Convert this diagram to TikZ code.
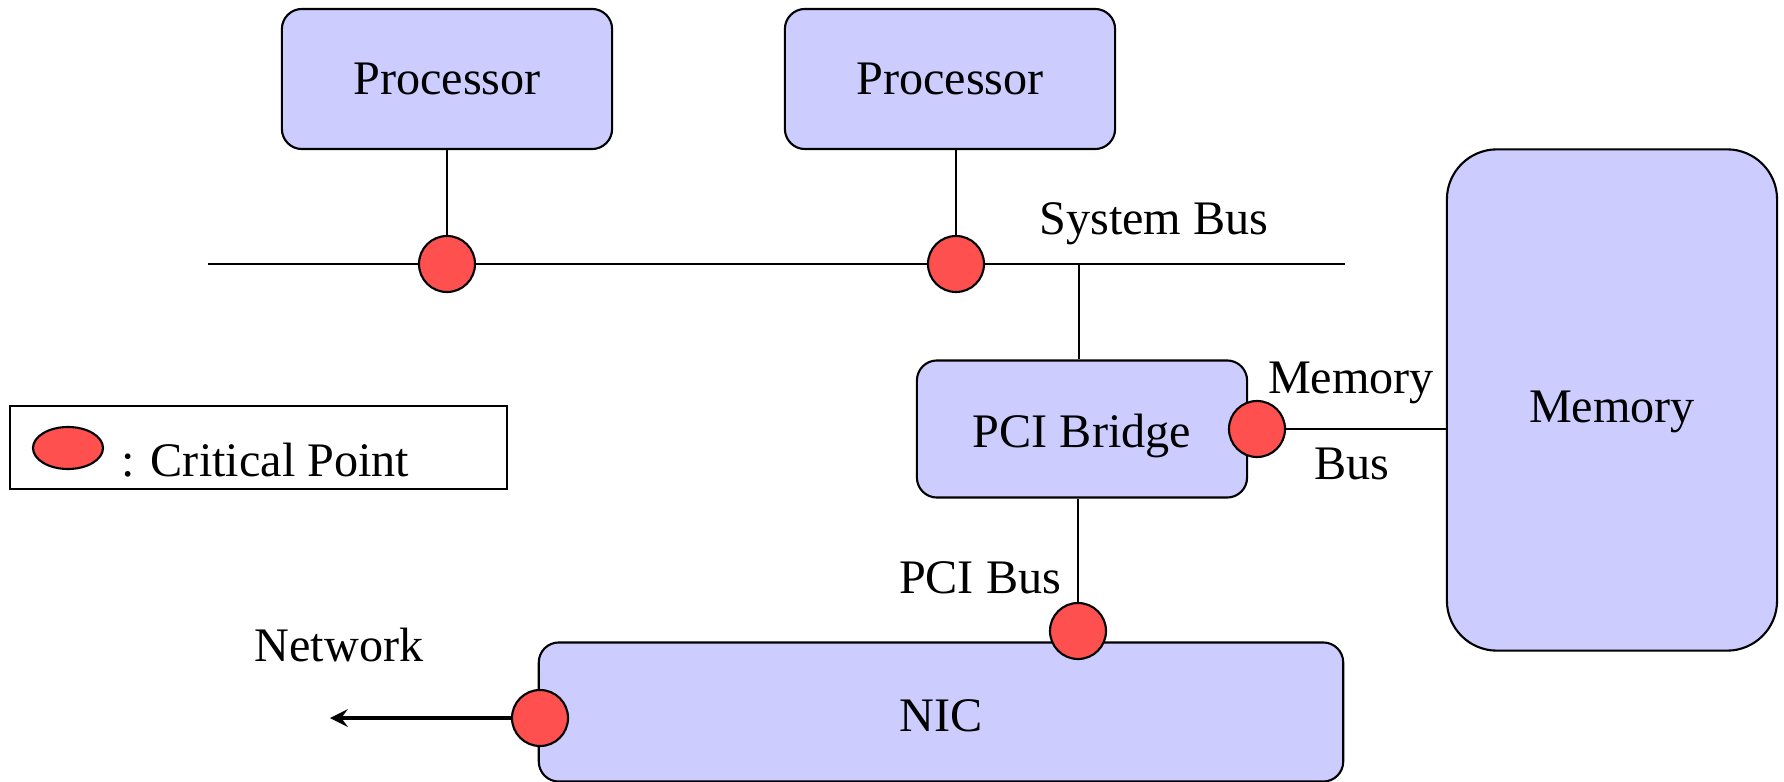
\documentclass[tikz,border=0pt]{standalone}
\usepackage{fontspec}
\setmainfont{Liberation Serif}
\usetikzlibrary{shapes.geometric, arrows, positioning}
\definecolor{boxblue}{RGB}{204,204,255}
\definecolor{pointred}{RGB}{255,80,80}
\tikzstyle{unit} = [
  rectangle,
  rounded corners=0.2cm,
  minimum width=3.3cm,
  minimum height=1.4cm,
  text centered,
  draw=black,
  line width=0.6pt,
  fill=boxblue,
  font=\fontsize{13.7}{16}\selectfont
]
\tikzstyle{point} = [
  circle,
  minimum size=0.56cm,
  inner sep=0pt,
  draw=black,
  line width=0.6pt,
  fill=pointred
]
\tikzstyle{buslabel} = [font=\fontsize{13.7}{16}\selectfont]
\tikzstyle{bus} = [line width=0.5pt]
\tikzstyle{arrow} = [line width=1.2pt, ->, >=stealth]

\begin{document}
\begin{tikzpicture}[x=0.01cm, y=-0.01cm]
    \useasboundingbox (0,0) rectangle (1784,782);

    \node (proc1) [unit] at (447,79) {Processor};
    \node (proc2) [unit] at (950,79) {Processor};
    \node (bridge) [unit, minimum height=1.37cm, text height=0.47cm, text depth=0.1cm] at (1082,429) {PCI Bridge};
    \node (mem) [unit, rounded corners=0.5cm, minimum height=5.01cm, text height=0.55cm, text depth=0.1cm] at (1612,400) {Memory};
    \node (nic) [unit, minimum width=8.04cm, minimum height=1.39cm, text height=0.39cm, text depth=0cm] at (941,712) {NIC};

    \node (cp1) [point] at (447,264) {};
    \node (cp2) [point] at (956,264) {};
    \node (cp3) [point] at (1257,429) {};
    \node (cp4) [point] at (1078,631) {};
    \node (cp5) [point] at (540,718) {};

    \coordinate (busL) at (208,264);
    \coordinate (busR) at (1345,264);
    \coordinate (tap) at (1079,264);
    \coordinate (net) at (330,718);

    \node (sysbus) [buslabel] at (1154,224) {System Bus};
    \node (memlbl) [buslabel] at (1351,383) {Memory};
    \node (buslbl) [buslabel] at (1352,464) {Bus};
    \node (pcibus) [buslabel] at (980,578) {PCI Bus};
    \node (network) [buslabel] at (339,645) {Network};

    \node (legend) [draw=black, line width=0.6pt, minimum width=4.97cm, minimum height=0.83cm] at (258.5,447.5) {};
    \node (key) [ellipse, draw=black, line width=0.6pt, fill=pointred, minimum width=0.7cm, minimum height=0.42cm, inner sep=0pt] at (68,448) {};
    \node (keytext) [buslabel, anchor=west] at (109,460) {: Critical Point};

    \draw [bus] (busL) -- (cp1) -- (cp2) -- (busR);
    \draw [bus] (proc1) -- (cp1);
    \draw [bus] (proc2.south -| cp2) -- (cp2);
    \draw [bus] (tap) -- (bridge.north -| tap);
    \draw [bus] (bridge.south -| cp4) -- (cp4);
    \draw [bus] (cp3) -- (cp3 -| mem.west);
    \draw [arrow] (cp5) -- (net);
  \end{tikzpicture}
\end{document}
